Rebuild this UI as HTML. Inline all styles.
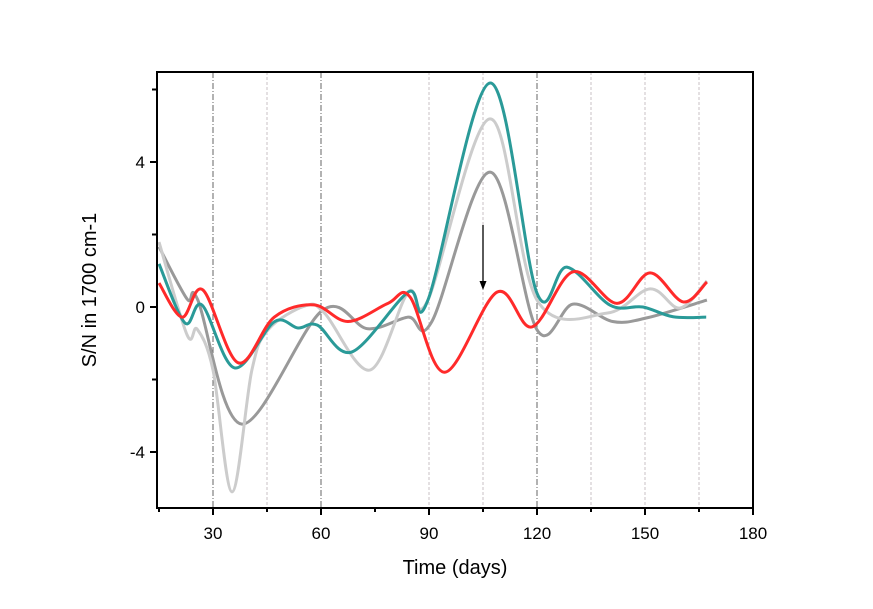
<!DOCTYPE html>
<html><head><meta charset="utf-8"><style>
html,body{margin:0;padding:0;background:#fff;}
svg{display:block;font-family:"Liberation Sans",Arial,sans-serif;}
</style></head><body>
<svg id="chart" width="873" height="609" viewBox="0 0 873 609" xmlns="http://www.w3.org/2000/svg">
<g id="grid"></g>
<g id="series"></g>
<g id="axes"></g>
<text x="455" y="574" font-size="20" text-anchor="middle">Time (days)</text>
<text transform="translate(96,290) rotate(-90)" font-size="20" text-anchor="middle">S/N in 1700 cm-1</text>
</svg>
<script>
const xTicks=[30,60,90,120,150,180];
const xMinor=[15,45,75,105,135,165];
const yTicks=[-4,0,4];
const yMinor=[-2,2,6];
const gridDark=[30,60,120];
const gridLight=[45,90,105,135,150,165];
const redDays=[15,21.4,27.2,37,47,58,67.5,78.6,84.7,94.4,108.9,118.6,130,142.2,151.4,160.6,167.2];
const redVals=[0.66,-0.28,0.47,-1.54,-0.28,0.06,-0.4,0.1,0.28,-1.8,0.41,-0.55,0.97,0.1,0.94,0.14,0.69];
const tealDays=[15,22.2,27,36,47,53.6,59,68.6,84.2,89.7,107,120,128.3,140.3,149.4,157.8,167];
const tealVals=[1.19,-0.44,0.05,-1.68,-0.41,-0.58,-0.5,-1.24,0.41,0.19,6.18,0.38,1.1,0.05,0,-0.27,-0.28];
const lightDays=[15,22.8,25.6,30,35.3,40.8,45.3,55.6,61,73.6,84.2,89.7,107,120,139.4,151.4,159.7,167.2];
const lightVals=[1.79,-0.77,-0.61,-1.74,-5.1,-1.74,-0.63,0.03,-0.17,-1.74,0.41,0.19,5.19,0.19,-0.17,0.5,-0.03,0.72];
const darkDays=[15,22.8,25.8,38,60.3,73,84.2,90.8,107,120,130,141,150.5,167.2];
const darkVals=[1.66,0.22,0.19,-3.23,-0.1,-0.6,-0.28,-0.4,3.72,-0.63,0.08,-0.4,-0.3,0.19];

const X0=157,X1=753,Y0=72,Y1=508;
function sx(d){return 105+d*3.6;}
function sy(v){return 307-v*36.25;}
const NS='http://www.w3.org/2000/svg';
function mk(t,a,p){const e=document.createElementNS(NS,t);for(const k in a)e.setAttribute(k,a[k]);p.appendChild(e);return e;}
const grid=document.getElementById('grid'),axes=document.getElementById('axes'),ser=document.getElementById('series');
gridDark.forEach(d=>{const l=mk('line',{x1:sx(d),x2:sx(d),y1:Y0,y2:Y1,stroke:'#666','stroke-width':1,'stroke-dasharray':'6,2,1,2'},grid);

});
gridLight.forEach(d=>{const l=mk('line',{x1:sx(d),x2:sx(d),y1:Y0,y2:Y1,stroke:'#c8c0c4','stroke-width':1,'stroke-dasharray':'3,2'},grid);

});
function path(days,vals,color,name){
  const p=days.map((d,i)=>[sx(d),sy(vals[i])]);
  let s='M'+p[0][0]+','+p[0][1];
  for(let i=0;i<p.length-1;i++){
    const a=p[Math.max(0,i-1)],b=p[i],c=p[i+1],e=p[Math.min(p.length-1,i+2)];
    const c1=[b[0]+(c[0]-a[0])/6,b[1]+(c[1]-a[1])/6],c2=[c[0]-(e[0]-b[0])/6,c[1]-(e[1]-b[1])/6];
    s+=' C'+c1+' '+c2+' '+c;
  }
  const el=mk('path',{d:s,fill:'none',stroke:color,'stroke-width':3,'stroke-linejoin':'round'},ser);
  
  
}
path(darkDays,darkVals,'#999999','series-dark-gray');
path(lightDays,lightVals,'#cccccc','series-light-gray');
path(tealDays,tealVals,'#2a9a98','series-teal');
path(redDays,redVals,'#ff2a2a','series-red');
const ar=mk('line',{x1:483,y1:225,x2:483,y2:282,stroke:'#000','stroke-width':1.3},ser);


const ah=mk('polygon',{points:'479.5,281 486.5,281 483,290',fill:'#000'},ser);


const fr=mk('rect',{x:X0,y:Y0,width:X1-X0,height:Y1-Y0,fill:'none',stroke:'#000','stroke-width':2},axes);


xTicks.forEach(d=>{const t=mk('line',{x1:sx(d),x2:sx(d),y1:Y1,y2:Y1+7,stroke:'#000','stroke-width':2},axes);


const tx=mk('text',{x:sx(d),y:Y1+31,'font-size':17,'text-anchor':'middle'},axes);tx.textContent=d;

});
xMinor.forEach(d=>{const t=mk('line',{x1:sx(d),x2:sx(d),y1:Y1,y2:Y1+4,stroke:'#000','stroke-width':2},axes);

});
yTicks.forEach(v=>{const t=mk('line',{x1:X0-7,x2:X0,y1:sy(v),y2:sy(v),stroke:'#000','stroke-width':2},axes);


const tx=mk('text',{x:X0-12,y:sy(v)+6,'font-size':17,'text-anchor':'end'},axes);tx.textContent=v;

});
yMinor.forEach(v=>{const t=mk('line',{x1:X0-5,x2:X0,y1:sy(v),y2:sy(v),stroke:'#000','stroke-width':2},axes);

});
</script>
</body></html>
